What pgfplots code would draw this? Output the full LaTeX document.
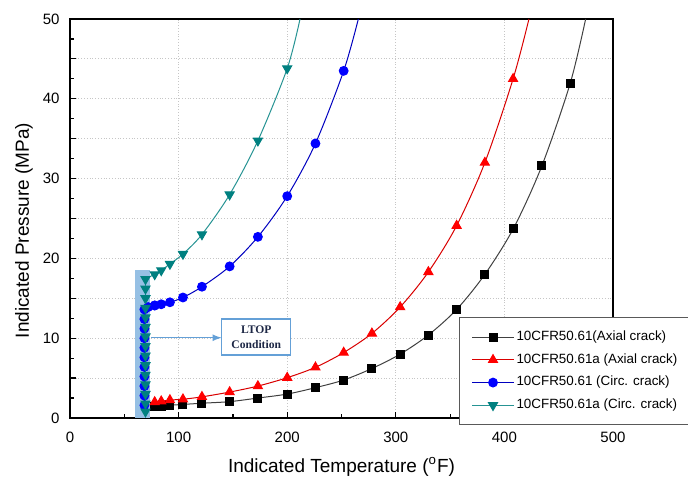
\documentclass[border=0pt]{standalone}
\usepackage{fontspec}
\setmainfont{Liberation Sans}
\newfontfamily\timesfont{Liberation Serif}
\usepackage{pgfplots}
\pgfplotsset{compat=1.18}
\begin{document}
\begin{tikzpicture}
\definecolor{cteal}{RGB}{0,128,128}
\definecolor{cband}{RGB}{150,192,228}
\definecolor{cbox}{RGB}{100,160,215}
\definecolor{ctext}{RGB}{30,40,70}
\begin{axis}[
    name=ax,
    scale only axis,
    width=271.5pt, height=199.5pt,
    xmin=0, xmax=500, ymin=0, ymax=50,
    xtick={0,100,...,500}, minor x tick num=1,
    ytick={0,5,...,50}, yticklabels={0,,10,,20,,30,,40,,50}, minor y tick num=1,
    xtick pos=bottom, ytick pos=left, tick align=inside,
    major tick length=3pt, minor tick length=2pt,
    tick style={black, line width=0.6pt},
    grid=major, grid style={densely dotted, color=gray!45},
    axis line style={line width=1pt},
    /pgf/number format/assume math mode=true,
    ticklabel style={font=\fontsize{7.5}{9}\selectfont},
    xticklabel style={yshift=-3.5pt},
    yticklabel style={xshift=-1.7pt},
    xlabel={Indicated Temperature (\textsuperscript{o}F)},
    ylabel={Indicated Pressure (MPa)},
    xlabel style={at={(axis description cs:0.5,-0.123)}, anchor=center, font=\fontsize{9.5}{11}\selectfont},
    ylabel style={at={(axis description cs:-0.085,0.47)}, anchor=center, font=\fontsize{9.5}{11}\selectfont},
    legend style={
        at={(axis description cs:0.7164,0.2524)}, anchor=north west,
        draw=gray!70!black, line width=0.5pt, fill=white,
        font=\fontsize{6.7}{8}\selectfont,
        inner xsep=6pt, inner ysep=5.5pt, row sep=3pt,
        nodes={inner sep=1pt},
    },
    legend cell align=left,
    legend image code/.code={\draw[#1, mark indices={2}] plot coordinates {(0pt,0pt) (10.5pt,0pt) (21pt,0pt)};},
]
% LTOP band
\addplot[forget plot, draw=none, fill=cband] coordinates {(60,18.5)(74,18.5)} \closedcycle;

% 10CFR50.61 axial
\addplot[color=black!75, line width=0.5pt, smooth, mark=square*, mark size=2pt,
    mark options={black, solid}, mark indices={1,...,18}]
    coordinates {(78,1.45)(84,1.5)(92,1.6)(104,1.7)(121.5,1.85)(147,2.05)(173,2.5)
    (200,3.0)(226,3.8)(252,4.76)(278,6.2)(304,8.0)(330,10.4)(356,13.6)(382,18.0)
    (408.5,23.8)(434.5,31.6)(460.5,41.9)(474.8,50)};
% 10CFR50.61a axial
\addplot[color=red!85!black, line width=0.5pt, smooth, mark=triangle*, mark size=2.6pt,
    mark options={red, solid}, mark indices={1,...,16}]
    coordinates {(78,2.0)(84,2.1)(92,2.25)(104,2.35)(121.5,2.65)(147,3.25)(173,4.0)
    (200,5.05)(226,6.35)(252,8.2)(278,10.6)(304,13.9)(330,18.3)(356,24.1)(382,32.0)
    (408,42.5)(422.6,50)};
% 10CFR50.61 circ
\addplot[color=blue!75!black, line width=0.5pt, smooth, mark=*, mark size=2.2pt,
    mark options={blue, solid}, mark indices={1,...,10}]
    coordinates {(78,14.1)(84,14.25)(92,14.5)(104,15.1)(121.5,16.45)(147,19.0)(173,22.7)
    (200,27.8)(226,34.4)(252,43.5)(265.5,50)};
% 10CFR50.61a circ
\addplot[color=cteal!85, line width=0.5pt, smooth, mark=triangle*, mark size=2.6pt,
    mark options={cteal, solid, rotate=180}, mark indices={1,...,8}]
    coordinates {(78,18.0)(84,18.5)(92,19.3)(104,20.55)(121.5,23.0)(147,28.0)(173,34.75)
    (200,43.8)(211.8,50)};

% vertical parts at LTOP temperature
\addplot[forget plot, color=blue!75!black, line width=0.5pt, mark=*, mark size=2.2pt,
    mark options={blue, solid}]
    coordinates {(68.5,1.6)(68.5,2.8)(68.5,4.0)(68.5,5.2)(68.5,6.4)(68.5,7.6)(68.5,8.8)
    (68.5,10.0)(68.5,11.2)(68.5,12.4)(68.5,13.6)(72,13.9)(78,14.1)};
\addplot[forget plot, color=cteal!85, line width=0.5pt, mark=triangle*, mark size=2.6pt,
    mark options={cteal, solid, rotate=180}]
    coordinates {(69.5,0.8)(69.5,1.8)(69.5,3.0)(69.5,4.2)(69.5,5.4)(69.5,6.6)(69.5,7.8)
    (69.5,9.0)(69.5,10.2)(69.5,11.4)(69.5,12.6)(69.5,13.8)(69.5,15.0)(69.5,16.2)(69.5,17.4)};
\addplot[forget plot, color=cteal!85, line width=0.5pt] coordinates {(69.5,17.4)(72,17.6)(78,18.0)};

% LTOP annotation
\draw[cbox, line width=0.6pt, -latex] (axis cs:75,10.06) -- (axis cs:139.7,10.06);
\node[draw=cbox, line width=0.6pt, fill=white, minimum width=34.5pt, minimum height=18pt,
    inner sep=1pt, align=center, text=ctext, font=\timesfont\bfseries\fontsize{5.8}{7.5}\selectfont]
    at (axis cs:171.5,10.15) {LTOP\\Condition};

\legend{10CFR50.61(Axial crack),10CFR50.61a (Axial crack),10CFR50.61 (Circ. crack),10CFR50.61a (Circ. crack)}
\end{axis}
\pgfresetboundingbox
\path[use as bounding box] ([xshift=-35pt,yshift=-30.5pt]ax.south west) rectangle ([xshift=37.5pt,yshift=9.5pt]ax.north east);
\end{tikzpicture}
\end{document}
